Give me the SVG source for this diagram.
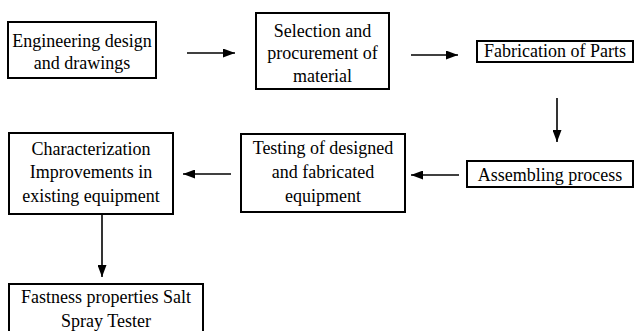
<svg xmlns="http://www.w3.org/2000/svg" width="634" height="331" viewBox="0 0 634 331">
<style>
.box{fill:#fff;stroke:#000;stroke-width:2}
text{font-family:'Liberation Serif','Times New Roman','DejaVu Serif',serif;font-size:18px;fill:#000;text-anchor:middle}
.c{stroke:#000;stroke-width:1.6;fill:none}
</style>
<defs>
<marker id="ah" markerWidth="12" markerHeight="9" refX="12" refY="4.5" orient="auto" markerUnits="userSpaceOnUse">
<path d="M0,0 L12,4.5 L0,9 Z" fill="#000"/>
</marker>
</defs>
<rect width="634" height="331" fill="#fff"/>
<g id="n1"><rect class="box" x="8" y="22" width="148" height="56"/>
<text x="82" y="47">Engineering design</text><text x="82" y="69">and drawings</text></g>
<g id="n2"><rect class="box" x="256" y="13" width="133" height="76"/>
<text x="322.5" y="37">Selection and</text><text x="322.5" y="59">procurement of</text><text x="322.5" y="82">material</text></g>
<g id="n3"><rect class="box" x="477" y="41" width="156" height="21"/>
<text x="555" y="57">Fabrication of Parts</text></g>
<g id="n4"><rect class="box" x="467" y="161" width="166" height="26"/>
<text x="550" y="181">Assembling process</text></g>
<g id="n5"><rect class="box" x="241" y="134" width="164" height="78"/>
<text x="323" y="154">Testing of designed</text><text x="323" y="178">and fabricated</text><text x="323" y="202">equipment</text></g>
<g id="n6"><rect class="box" x="9" y="133" width="164" height="81"/>
<text x="91" y="155">Characterization</text><text x="91" y="178">Improvements in</text><text x="91" y="202">existing equipment</text></g>
<g id="n7"><rect class="box" x="9" y="284" width="194" height="50"/>
<text x="106" y="303">Fastness properties Salt</text><text x="106" y="327">Spray Tester</text></g>
<g id="connectors">
<line class="c" x1="187" y1="53" x2="235" y2="53" marker-end="url(#ah)"/>
<line class="c" x1="411" y1="55" x2="458" y2="55" marker-end="url(#ah)"/>
<line class="c" x1="557" y1="98" x2="557" y2="142" marker-end="url(#ah)"/>
<line class="c" x1="459" y1="175" x2="411" y2="175" marker-end="url(#ah)"/>
<line class="c" x1="231" y1="174" x2="183" y2="174" marker-end="url(#ah)"/>
<line class="c" x1="102" y1="214" x2="102" y2="277" marker-end="url(#ah)"/>
</g>
</svg>
